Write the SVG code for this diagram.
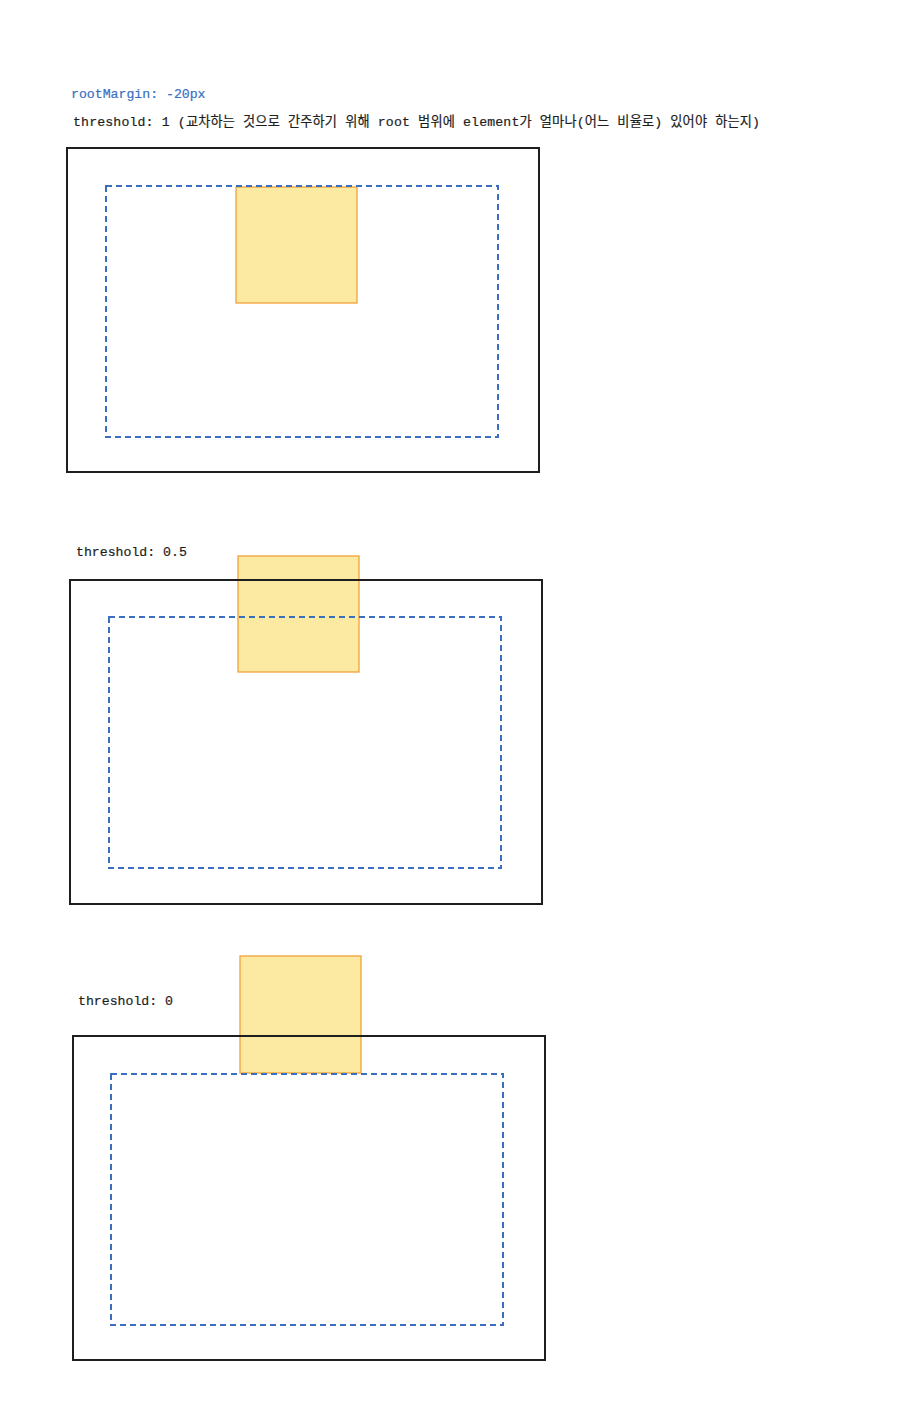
<svg xmlns="http://www.w3.org/2000/svg" width="908" height="1418" viewBox="0 0 908 1418">
<style>
.t{font-family:"Liberation Mono","Noto Sans CJK KR",monospace;font-size:13.2px;fill:#1e1e1e;stroke:#1e1e1e;stroke-width:0.2}
.b{fill:#3a6fbf;stroke:#3a6fbf}
.root{fill:none;stroke:#1e1e1e;stroke-width:2}
.margin{fill:none;stroke:#3a6fbf;stroke-width:2;stroke-dasharray:6 4}
.el{fill:#fce9a2;stroke:#f0a33a;stroke-width:1.3}
</style>
<rect width="908" height="1418" fill="#ffffff"/>
<g id="labels">
<text class="t b" x="71" y="98">rootMargin: -20px</text>
<text class="t" x="73" y="126" textLength="687" lengthAdjust="spacing">threshold: 1 (교차하는 것으로 간주하기 위해 root 범위에 element가 얼마나(어느 비율로) 있어야 하는지)</text>
<text class="t" x="76" y="556">threshold: 0.5</text>
<text class="t" x="78" y="1005">threshold: 0</text>
</g>
<g id="panel1">
<rect class="el" x="236" y="187" width="121" height="116"/>
<rect class="root" x="67" y="148" width="472" height="324"/>
<rect class="margin" x="106" y="186" width="392" height="251"/>
</g>
<g id="panel2">
<rect class="el" x="238" y="556" width="121" height="116"/>
<rect class="root" x="70" y="580" width="472" height="324"/>
<rect class="margin" x="109" y="617" width="392" height="251"/>
</g>
<g id="panel3">
<rect class="el" x="240" y="956" width="121" height="117"/>
<rect class="root" x="73" y="1036" width="472" height="324"/>
<rect class="margin" x="111" y="1074" width="392" height="251"/>
</g>
<g id="connectors"></g>
</svg>
